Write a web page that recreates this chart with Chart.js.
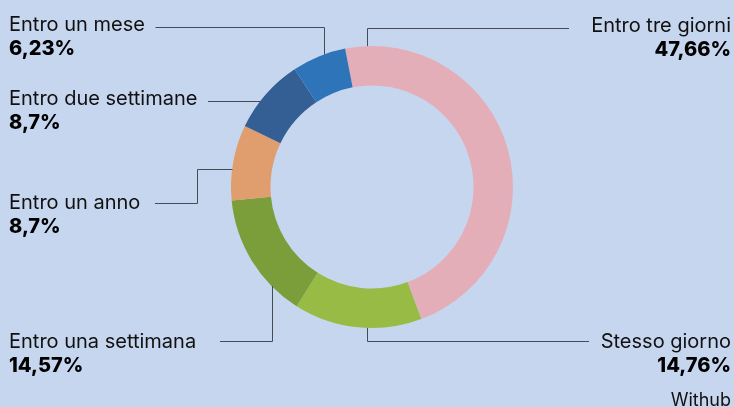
<!DOCTYPE html>
<html>
<head>
<meta charset="utf-8">
<script src="https://cdn.jsdelivr.net/npm/chart.js@4/dist/chart.umd.min.js"></script>
<style>
  html, body { margin: 0; padding: 0; background: #c7d6ef; }
  #wrap { width: 734px; height: 407px; position: relative; }
</style>
</head>
<body>
<div id="wrap"><canvas id="c" width="734" height="407"></canvas></div>
<script>
// ---- data ----
const categories = ["Entro tre giorni", "Stesso giorno", "Entro una settimana", "Entro un anno", "Entro due settimane", "Entro un mese"];
const values = [47.66, 14.76, 14.57, 8.7, 8.7, 6.23];
const valueLabels = ["47,66%", "14,76%", "14,57%", "8,7%", "8,7%", "6,23%"];
const colors = ["#e4aeb9", "#97bb45", "#7c9e3a", "#e09d6d", "#335f95", "#2e74b8"];
const sourceText = "Withub";

// label layout (annotation positions only)
// side: 'L' text left-aligned at x=9, 'R' right-aligned at x=731
// frac: where on the arc's outer edge the leader line attaches (0..1 along the slice)
const labelLayout = [
  { side: "R", base: 31.5, frac: 0.053, route: "up", lineY: 28, endX: 569 },
  { side: "R", base: 348,  frac: 0.43,  route: "down", lineY: 341, endX: 589 },
  { side: "L", base: 348,  frac: 0.25,  route: "down", lineY: 341, endX: 220 },
  { side: "L", base: 208.5, frac: 0.42, route: "elbow", lineY: 203.5, elbowX: 197.5, endX: 155 },
  { side: "L", base: 104.5, frac: 0.39, route: "horiz", endX: 208 },
  { side: "L", base: 31,   frac: 0.6,   route: "up", lineY: 27, endX: 155.5 }
];

const FONT = "Inter, 'Noto Sans', sans-serif";

const labelsPlugin = {
  id: "labels",
  afterDraw(chart) {
    const ctx = chart.ctx;
    const meta = chart.getDatasetMeta(0);
    ctx.save();
    meta.data.forEach((arc, i) => {
      const L = labelLayout[i];
      const p = arc.getProps(["x", "y", "startAngle", "endAngle", "outerRadius"], true);
      const a = p.startAngle + (p.endAngle - p.startAngle) * L.frac;
      let ax = p.x + Math.cos(a) * p.outerRadius;
      let ay = p.y + Math.sin(a) * p.outerRadius;
      ax = Math.round(ax) + 0.5;
      ctx.strokeStyle = "#474b55";
      ctx.lineWidth = 1;
      ctx.beginPath();
      if (L.route === "up" || L.route === "down") {
        ctx.moveTo(ax, ay);
        ctx.lineTo(ax, L.lineY + 0.5);
        ctx.lineTo(L.endX, L.lineY + 0.5);
      } else if (L.route === "horiz") {
        const y = Math.round(ay) + 0.5;
        ctx.moveTo(ax, y);
        ctx.lineTo(L.endX, y);
      } else if (L.route === "elbow") {
        const y = Math.round(ay) + 0.5;
        ctx.moveTo(ax, y);
        ctx.lineTo(L.elbowX, y);
        ctx.lineTo(L.elbowX, L.lineY);
        ctx.lineTo(L.endX, L.lineY);
      }
      ctx.stroke();

      const tx = L.side === "L" ? 9 : 731;
      ctx.textAlign = L.side === "L" ? "left" : "right";
      ctx.textBaseline = "alphabetic";
      ctx.fillStyle = "#111";
      ctx.font = "400 20px " + FONT;
      ctx.fillText(categories[i], tx, L.base);
      ctx.fillStyle = "#000";
      ctx.font = "800 20px " + FONT;
      ctx.fillText(valueLabels[i], tx, L.base + 24);
    });
    ctx.fillStyle = "#111";
    ctx.font = "400 18px " + FONT;
    ctx.textAlign = "right";
    ctx.fillText(sourceText, 731, 406);
    ctx.restore();
  }
};

new Chart(document.getElementById("c"), {
  type: "doughnut",
  data: {
    labels: categories,
    datasets: [{
      data: values,
      backgroundColor: colors,
      borderWidth: 0,
      hoverOffset: 0
    }]
  },
  options: {
    responsive: false,
    animation: false,
    rotation: -11,
    cutout: "72%",
    layout: { padding: { left: 10, right: 0, top: 46, bottom: 79 } },
    plugins: { legend: { display: false }, tooltip: { enabled: false } },
    events: []
  },
  plugins: [labelsPlugin]
});
</script>
</body>
</html>
